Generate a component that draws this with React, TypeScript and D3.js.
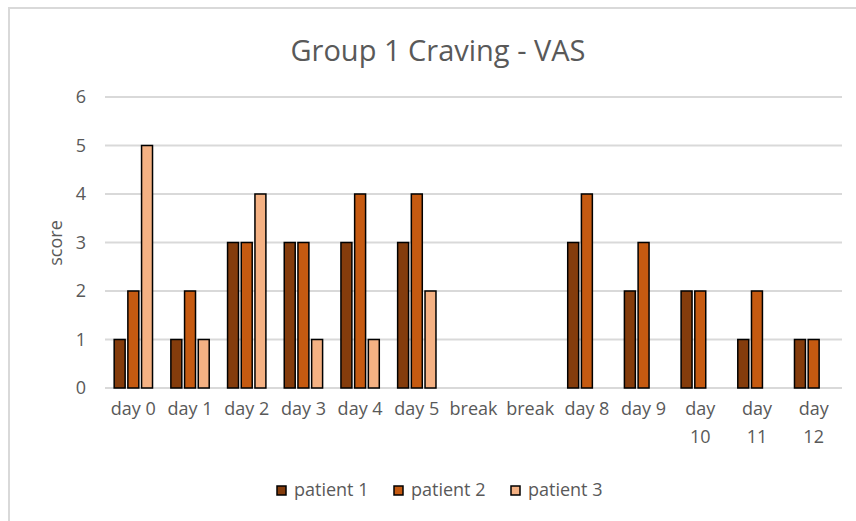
import { useEffect, useRef } from "react";
import * as d3 from "d3";

const categories = ["day 0", "day 1", "day 2", "day 3", "day 4", "day 5", "break", "break", "day 8", "day 9", "day 10", "day 11", "day 12"];
const seriesNames = ["patient 1", "patient 2", "patient 3"];
const patient1 = [1, 1, 3, 3, 3, 3, null, null, 3, 2, 2, 1, 1];
const patient2 = [2, 2, 3, 3, 4, 4, null, null, 4, 3, 2, 2, 1];
const patient3 = [5, 1, 4, 1, 1, 2, null, null, null, null, null, null, null];
const yTicks = [0, 1, 2, 3, 4, 5, 6];
const colors = ["#843C0C", "#C55A11", "#F4B183"];

const FONT = "'Open Sans', 'Noto Sans', sans-serif";
const TEXT = "#595959";
const FS = 18;

export default function App() {
  const svgRef = useRef<SVGSVGElement | null>(null);

  useEffect(() => {
    if (!svgRef.current) return;
    const width = 856;
    const height = 521;
    const margin = { top: 97, right: 14, bottom: 133, left: 105 };
    const w = width - margin.left - margin.right;
    const h = height - margin.top - margin.bottom;

    const svg = d3.select(svgRef.current);
    svg.selectAll("*").remove();
    svg.attr("width", width).attr("height", height);

    // chart frame
    svg.append("rect")
      .attr("x", 9).attr("y", 8)
      .attr("width", width + 10).attr("height", height + 10)
      .attr("fill", "#fff").attr("stroke", "#d9d9d9").attr("stroke-width", 2);

    svg.append("text")
      .attr("x", 438).attr("y", 61)
      .attr("text-anchor", "middle")
      .attr("font-family", FONT)
      .attr("font-size", 29)
      .attr("fill", TEXT)
      .text("Group 1 Craving - VAS");

    const g = svg.append("g").attr("transform", `translate(${margin.left},${margin.top})`);

    const idx = categories.map((_, i) => String(i));
    const x0 = d3.scaleBand<string>().domain(idx).range([0, w]).padding(0);
    const x1 = d3.scaleBand<string>()
      .domain(seriesNames)
      .range([0, x0.bandwidth()])
      .paddingInner(0.2)
      .paddingOuter(0.67);
    const y = d3.scaleLinear().domain([0, 6]).range([h, 0]);

    // gridlines
    g.append("g")
      .selectAll("line")
      .data(yTicks)
      .enter()
      .append("line")
      .attr("x1", 0).attr("x2", w)
      .attr("y1", d => y(d)).attr("y2", d => y(d))
      .attr("stroke", "#d9d9d9").attr("stroke-width", 2);

    // y tick labels
    const yAxis = g.append("g")
      .call(d3.axisLeft(y).tickValues(yTicks).tickSize(0).tickPadding(19).tickFormat(d3.format("d")));
    yAxis.select(".domain").remove();
    yAxis.selectAll("text")
      .attr("font-family", FONT).attr("font-size", FS).attr("fill", TEXT);

    // x tick labels (wrapped like the original)
    const xAxis = g.append("g")
      .attr("transform", `translate(0,${h})`)
      .call(d3.axisBottom(x0).tickSize(0).tickPadding(14).tickFormat(d => categories[Number(d)]));
    xAxis.select(".domain").remove();
    xAxis.selectAll<SVGTextElement, string>("text")
      .attr("font-family", FONT).attr("font-size", FS).attr("fill", TEXT)
      .each(function (d) {
        const label = categories[Number(d)];
        if (label.length <= 5) return;
        const parts = label.split(" ");
        const t = d3.select(this);
        t.text(null);
        parts.forEach((p, i) => {
          t.append("tspan").attr("x", 0).attr("dy", i === 0 ? "0.71em" : "1.55em").text(p);
        });
        t.attr("dy", null);
      });

    const series = [patient1, patient2, patient3];
    series.forEach((vals, si) => {
      g.append("g")
        .selectAll("rect")
        .data(vals.map((v, i) => ({ i, v })).filter(d => d.v != null))
        .enter()
        .append("rect")
        .attr("x", d => (x0(String(d.i)) ?? 0) + (x1(seriesNames[si]) ?? 0))
        .attr("y", d => y(d.v as number))
        .attr("width", x1.bandwidth())
        .attr("height", d => h - y(d.v as number))
        .attr("fill", colors[si])
        .attr("stroke", "#000")
        .attr("stroke-width", 1.5);
    });

    // y axis title
    svg.append("text")
      .attr("transform", `translate(62,243) rotate(-90)`)
      .attr("text-anchor", "middle")
      .attr("font-family", FONT)
      .attr("font-size", FS)
      .attr("fill", TEXT)
      .text("score");

    // legend
    const legend = svg.append("g").attr("transform", "translate(277,490)");
    const stride = 117;
    seriesNames.forEach((name, i) => {
      const item = legend.append("g").attr("transform", `translate(${i * stride},0)`);
      item.append("rect")
        .attr("x", 0).attr("y", -4)
        .attr("width", 9).attr("height", 9)
        .attr("fill", colors[i]).attr("stroke", "#000").attr("stroke-width", 1.5);
      item.append("text")
        .attr("x", 17).attr("y", 0).attr("dy", "0.35em")
        .attr("font-family", FONT).attr("font-size", FS).attr("fill", TEXT)
        .text(name);
    });
  }, []);

  return <svg ref={svgRef} style={{ position: "absolute", left: 0, top: 0, background: "#fff" }} />;
}
